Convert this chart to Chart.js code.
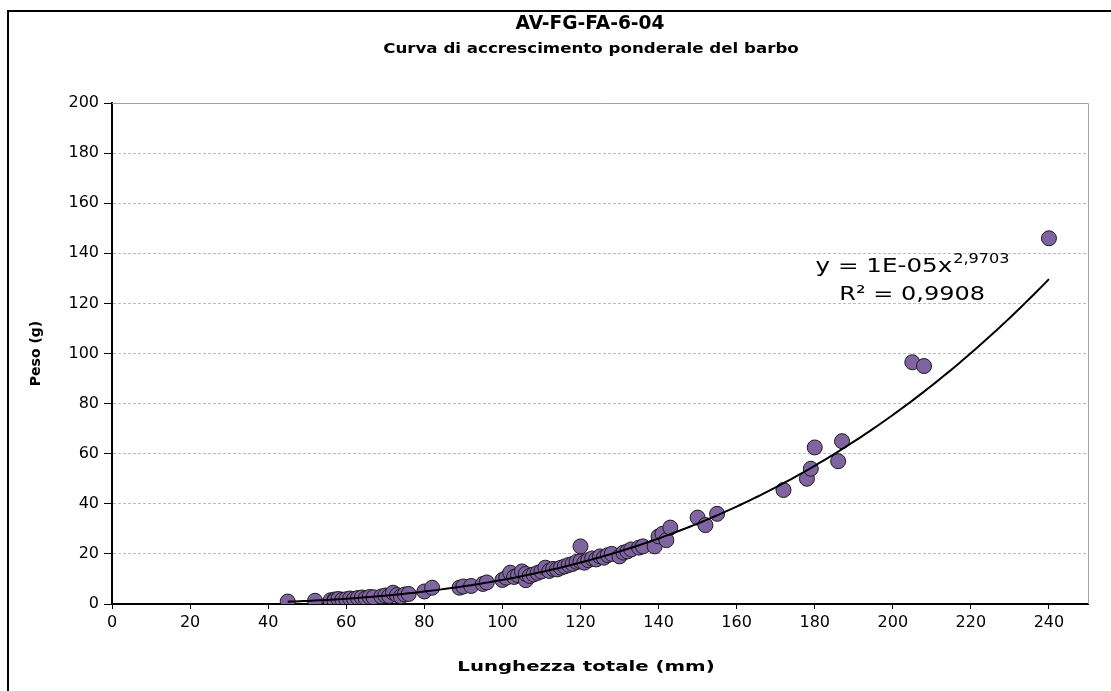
<!DOCTYPE html>
<html>
<head>
<meta charset="utf-8">
<script src="https://cdn.jsdelivr.net/npm/chart.js@4/dist/chart.umd.min.js"></script>
<style>
  html, body { margin: 0; padding: 0; background: #fff; }
  #wrap { width: 1111px; height: 691px; }
</style>
</head>
<body>
<div id="wrap"><canvas id="scatterChart" width="1111" height="691"></canvas></div>
<script>
// lunghezza totale (mm) e peso (g) dei barbi campionati
var lengths = [45, 52, 56, 57, 57, 58, 59, 60, 61, 62, 63, 64, 65, 66, 67, 69, 70, 71, 72, 73,
               74, 75, 76, 80, 82, 89, 90, 92, 95, 96, 100, 101, 102, 103, 104, 105, 106, 106, 107, 108,
               109, 110, 111, 112, 113, 114, 115, 116, 117, 118, 119, 120, 120, 121, 122, 123, 124, 125, 126, 127,
               128, 130, 131, 132, 133, 135, 136, 139, 140, 141, 142, 143, 150, 152, 155, 172, 178, 179, 180, 186,
               187, 205, 208, 240];
var weights = [1.0, 1.3, 1.5, 1.8, 1.2, 2.0, 1.7, 1.9, 2.2, 2.0, 2.4, 2.6, 2.3, 2.8, 2.7, 3.0, 3.4, 3.2, 4.5, 3.6,
               3.0, 3.8, 4.0, 5.0, 6.5, 6.5, 7.0, 7.2, 8.0, 8.6, 9.6, 10.5, 12.5, 10.8, 11.5, 13.0, 9.5, 12.0, 11.2, 11.8,
               12.4, 13.0, 14.5, 13.2, 14.0, 13.8, 14.5, 15.0, 15.6, 16.0, 16.8, 23.0, 17.0, 16.5, 17.5, 18.2, 17.8, 19.0, 18.5, 19.5,
               20.0, 19.0, 20.5, 21.0, 21.8, 22.5, 23.0, 23.0, 27.0, 28.0, 25.5, 30.5, 34.5, 31.5, 36.0, 45.5, 50.0, 54.0, 62.5, 57.0,
               65.0, 96.5, 95.0, 146.0];

// linea di tendenza di potenza (y = a * x^b)
var trendA = 1.104e-5;
var trendB = 2.9703;
var xTicks = [0, 20, 40, 60, 80, 100, 120, 140, 160, 180, 200, 220, 240];

var points = lengths.map(function (l, i) { return { x: l, y: weights[i] }; });
var trend = [];
for (var l = 45; l <= 240; l++) {
    trend.push({ x: l, y: trendA * Math.pow(l, trendB) });
}

var labelFont = 'DejaVu Sans, Verdana, sans-serif';

// testo allargato in orizzontale come nell'originale
function wideText(ctx, text, x, y, font, stretch, align) {
    ctx.save();
    ctx.font = font;
    var w = ctx.measureText(text).width * stretch;
    var left = align === 'center' ? x - w / 2 : x;
    ctx.translate(left, y);
    ctx.scale(stretch, 1);
    ctx.textAlign = 'left';
    ctx.fillText(text, 0, 0);
    ctx.restore();
    return w;
}

var decorations = {
    id: 'decorations',
    beforeDatasetsDraw: function (chart) {
        var ctx = chart.ctx, a = chart.chartArea;
        ctx.save();
        ctx.strokeStyle = '#a0a0a0';
        ctx.lineWidth = 1;
        ctx.beginPath();
        ctx.moveTo(a.left, a.top + 0.5);
        ctx.lineTo(a.right + 0.5, a.top + 0.5);
        ctx.lineTo(a.right + 0.5, a.bottom);
        ctx.stroke();
        ctx.restore();
    },
    afterDraw: function (chart) {
        var ctx = chart.ctx, xs = chart.scales.x, ys = chart.scales.y;
        ctx.save();
        // cornice esterna
        ctx.strokeStyle = '#000';
        ctx.lineWidth = 2;
        ctx.strokeRect(8, 11, 1300, 1000);

        ctx.fillStyle = '#000';
        ctx.textBaseline = 'middle';
        wideText(ctx, 'AV-FG-FA-6-04', 590, 24, 'bold 19px ' + labelFont, 0.98, 'center');
        wideText(ctx, 'Curva di accrescimento ponderale del barbo', 591, 49, 'bold 14px ' + labelFont, 1.19, 'center');
        wideText(ctx, 'Lunghezza totale (mm)', 586, 667, 'bold 14px ' + labelFont, 1.41, 'center');

        // equazione della tendenza
        ctx.textBaseline = 'alphabetic';
        var ex = xs.getPixelForValue(180.2), ey = ys.getPixelForValue(132.5);
        var w = wideText(ctx, 'y = 1E-05x', ex, ey, '20px ' + labelFont, 1.23, 'left');
        wideText(ctx, '2,9703', ex + w + 1, ey - 9, '14px ' + labelFont, 1.15, 'left');
        wideText(ctx, 'R\u00b2 = 0,9908', xs.getPixelForValue(186.3), ys.getPixelForValue(121.4), '20px ' + labelFont, 1.2, 'left');
        ctx.restore();
    }
};

var ctxS = document.getElementById('scatterChart').getContext('2d');

var myScatterChart = new Chart(ctxS, {
    type: 'scatter',
    data: {
        datasets: [{
            label: 'Tendenza',
            type: 'line',
            data: trend,
            borderColor: '#000',
            borderWidth: 2,
            pointRadius: 0,
            fill: false,
            tension: 0,
            order: 0
        },
        {
            label: 'Peso',
            data: points,
            backgroundColor: '#8064a2',
            borderColor: '#1a1a1a',
            borderWidth: 1,
            pointRadius: 7.5,
            order: 1
        }]
    },
    options: {
        responsive: false,
        animation: false,
        devicePixelRatio: 1,
        layout: { padding: { top: 103, right: 23, left: 0, bottom: 0 } },
        plugins: {
            legend: { display: false },
            tooltip: { enabled: false }
        },
        scales: {
            x: {
                type: 'linear',
                min: 0,
                max: 250,
                afterFit: function (s) { s.height = 87; },
                afterBuildTicks: function (s) {
                    s.ticks = xTicks.map(function (v) { return { value: v }; });
                },
                grid: { drawOnChartArea: false, drawTicks: true, tickLength: 5, tickColor: '#000', tickWidth: 1 },
                border: { color: '#000', width: 2 },
                ticks: { color: '#000', padding: 4, maxRotation: 0, font: { family: labelFont, size: 16 } }
            },
            y: {
                min: 0,
                max: 200,
                afterFit: function (s) { s.width = 112; },
                grid: { color: '#bdbdbd', lineWidth: 1, tickColor: '#000', tickLength: 8, tickBorderDash: [] },
                border: { color: '#000', width: 2, dash: [3, 2] },
                ticks: { stepSize: 20, color: '#000', padding: 5, font: { family: labelFont, size: 16 } },
                title: {
                    display: true,
                    text: 'Peso (g)',
                    color: '#000',
                    font: { family: labelFont, size: 14, weight: 'bold' },
                    padding: { top: 28, bottom: 0 }
                }
            }
        }
    },
    plugins: [decorations]
});
</script>
</body>
</html>
